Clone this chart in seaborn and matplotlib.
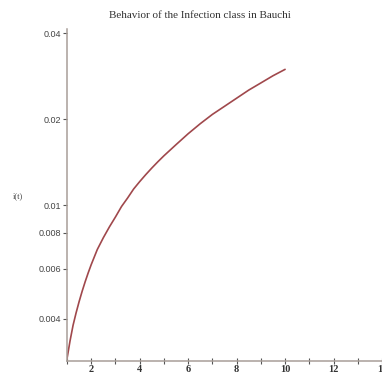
import matplotlib
matplotlib.use("Agg")
import matplotlib.pyplot as plt
from matplotlib.ticker import FixedLocator, NullFormatter, FixedFormatter, MultipleLocator
import seaborn as sns
import pandas as pd

# Infection class i(t) in Bauchi
t_values = [1, 1.125, 1.25, 1.375, 1.5, 1.625, 1.75, 1.875, 2, 2.25, 2.5, 2.75,
            3, 3.25, 3.5, 3.75, 4, 4.25, 4.5, 4.75, 5, 5.5, 6, 6.5, 7,
            7.5, 8, 8.5, 9, 9.5, 10]
i_values = [0.0029, 0.00335, 0.0038, 0.0042, 0.0046, 0.0050, 0.0054, 0.0058,
            0.0062, 0.0070, 0.0077, 0.0084, 0.0091, 0.0099, 0.0106, 0.0114,
            0.0121, 0.0128, 0.0135, 0.0142, 0.0149, 0.0163, 0.0178, 0.0193,
            0.0208, 0.0222, 0.0237, 0.0253, 0.0268, 0.0284, 0.0299]

y_ticks = [0.004, 0.006, 0.008, 0.01, 0.02, 0.04]
y_tick_labels = ["0.004", "0.006", "0.008", "0.01", "0.02", "0.04"]
x_ticks = [2, 4, 6, 8, 10, 12, 14]

title = "Behavior of the Infection class in Bauchi"

sns.set_theme(style="white")
plt.rcParams["font.family"] = ["Liberation Serif", "DejaVu Serif"]

df = pd.DataFrame({"t": t_values, "i": i_values})

fig = plt.figure(figsize=(3.82, 3.78), dpi=100)
ax = fig.add_axes([67 / 382, 17 / 378, 1 - 67 / 382, 332 / 378])

sns.lineplot(data=df, x="t", y="i", ax=ax, color="#a0484c", linewidth=1.2)

ax.set_yscale("log")
ax.set_xlim(1, 14.0)
ax.set_ylim(0.00285, 0.0414)

spine_col = "#a89e98"
for side in ("top", "right"):
    ax.spines[side].set_visible(False)
for side in ("left", "bottom"):
    ax.spines[side].set_color(spine_col)
    ax.spines[side].set_linewidth(1.1)

ax.yaxis.set_major_locator(FixedLocator(y_ticks))
ax.yaxis.set_major_formatter(FixedFormatter(y_tick_labels))
ax.yaxis.set_minor_locator(FixedLocator([]))
ax.yaxis.set_minor_formatter(NullFormatter())
ax.tick_params(axis="y", which="major", direction="out", length=3, width=0.8,
               color="#555555", labelsize=6.5, labelcolor="#444444", pad=1,
               left=True)
for lab in ax.get_yticklabels():
    lab.set_family(["Liberation Sans", "DejaVu Sans"])

ax.xaxis.set_major_locator(FixedLocator(x_ticks))
ax.xaxis.set_minor_locator(MultipleLocator(1))
ax.tick_params(axis="x", which="both", direction="inout", length=4, width=0.8,
               color="#555555", bottom=True)
ax.tick_params(axis="x", which="major", labelsize=7.5, labelcolor="#333333",
               pad=1)
for lab in ax.get_xticklabels():
    lab.set_fontweight("bold")

ax.set_xlabel("")
ax.set_ylabel("")
fig.text(18 / 382, 1 - 196 / 378, "i(t)", fontsize=6, color="#444444",
         ha="center", va="center")
fig.text(200 / 382, 1 - 16 / 378, title, fontsize=8, color="#333333",
         ha="center", va="center")

fig.savefig("out.png", dpi=100)
